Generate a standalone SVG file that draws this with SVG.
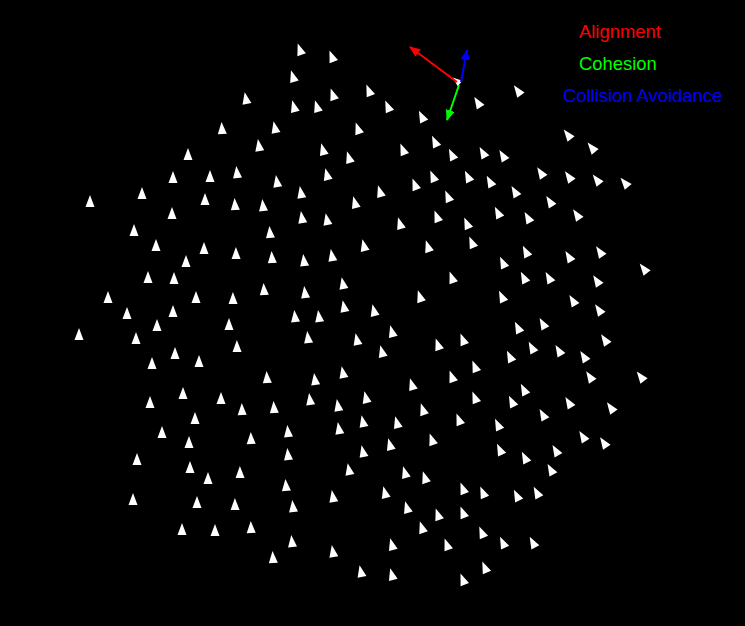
<svg xmlns="http://www.w3.org/2000/svg" xmlns:xlink="http://www.w3.org/1999/xlink" width="745" height="626" viewBox="0 0 745 626">
<style>
.lbl{font-family:"Liberation Sans",Arial,sans-serif;font-size:18.4px}
.boid{fill:#ffffff}
</style>
<defs>
<path id="b" class="boid" d="M0,-7 L4.5,5 L-4.5,5 Z"/>
<marker id="mr" markerUnits="userSpaceOnUse" markerWidth="11" markerHeight="9" refX="10" refY="4.5" orient="auto"><path d="M0,0 L11,4.5 L0,9 Z" fill="#ff0000"/></marker>
<marker id="mg" markerUnits="userSpaceOnUse" markerWidth="11" markerHeight="9" refX="10" refY="4.5" orient="auto"><path d="M0,0 L11,4.5 L0,9 Z" fill="#00ff00"/></marker>
<marker id="mb" markerUnits="userSpaceOnUse" markerWidth="11" markerHeight="9" refX="10" refY="4.5" orient="auto"><path d="M0,0 L11,4.5 L0,9 Z" fill="#0000ff"/></marker>
</defs>
<rect width="745" height="626" fill="#000000"/>
<g id="boids">
<use href="#b" transform="translate(300 50) rotate(-19)"/>
<use href="#b" transform="translate(332 57) rotate(-21)"/>
<use href="#b" transform="translate(293 77) rotate(-17)"/>
<use href="#b" transform="translate(369 91) rotate(-22)"/>
<use href="#b" transform="translate(246 99) rotate(-11)"/>
<use href="#b" transform="translate(333 95) rotate(-19)"/>
<use href="#b" transform="translate(294 107) rotate(-15)"/>
<use href="#b" transform="translate(317 107) rotate(-17)"/>
<use href="#b" transform="translate(222 129) rotate(-4)"/>
<use href="#b" transform="translate(275 128) rotate(-12)"/>
<use href="#b" transform="translate(358 129) rotate(-19)"/>
<use href="#b" transform="translate(259 146) rotate(-9)"/>
<use href="#b" transform="translate(323 150) rotate(-15)"/>
<use href="#b" transform="translate(349 158) rotate(-17)"/>
<use href="#b" transform="translate(237 173) rotate(-6)"/>
<use href="#b" transform="translate(277 182) rotate(-9)"/>
<use href="#b" transform="translate(327 175) rotate(-14)"/>
<use href="#b" transform="translate(301 193) rotate(-10)"/>
<use href="#b" transform="translate(235 205) rotate(-4)"/>
<use href="#b" transform="translate(263 206) rotate(-6)"/>
<use href="#b" transform="translate(355 203) rotate(-15)"/>
<use href="#b" transform="translate(302 218) rotate(-9)"/>
<use href="#b" transform="translate(327 220) rotate(-11)"/>
<use href="#b" transform="translate(188 155)"/>
<use href="#b" transform="translate(173 178)"/>
<use href="#b" transform="translate(210 177)"/>
<use href="#b" transform="translate(142 194)"/>
<use href="#b" transform="translate(90 202)"/>
<use href="#b" transform="translate(205 200)"/>
<use href="#b" transform="translate(172 214)"/>
<use href="#b" transform="translate(134 231)"/>
<use href="#b" transform="translate(388 107) rotate(-23)"/>
<use href="#b" transform="translate(422 117) rotate(-26)"/>
<use href="#b" transform="translate(478 103) rotate(-32)"/>
<use href="#b" transform="translate(518 91) rotate(-36)"/>
<use href="#b" transform="translate(435 142) rotate(-25)"/>
<use href="#b" transform="translate(403 150) rotate(-22)"/>
<use href="#b" transform="translate(452 155) rotate(-26)"/>
<use href="#b" transform="translate(483 153) rotate(-29)"/>
<use href="#b" transform="translate(503 156) rotate(-31)"/>
<use href="#b" transform="translate(433 177) rotate(-23)"/>
<use href="#b" transform="translate(468 177) rotate(-26)"/>
<use href="#b" transform="translate(490 182) rotate(-28)"/>
<use href="#b" transform="translate(415 185) rotate(-21)"/>
<use href="#b" transform="translate(380 192) rotate(-17)"/>
<use href="#b" transform="translate(448 197) rotate(-23)"/>
<use href="#b" transform="translate(515 192) rotate(-30)"/>
<use href="#b" transform="translate(498 213) rotate(-27)"/>
<use href="#b" transform="translate(437 217) rotate(-21)"/>
<use href="#b" transform="translate(400 224) rotate(-17)"/>
<use href="#b" transform="translate(467 224) rotate(-23)"/>
<use href="#b" transform="translate(568 135) rotate(-38)"/>
<use href="#b" transform="translate(592 148) rotate(-39)"/>
<use href="#b" transform="translate(541 173) rotate(-33)"/>
<use href="#b" transform="translate(569 177) rotate(-35)"/>
<use href="#b" transform="translate(597 180) rotate(-38)"/>
<use href="#b" transform="translate(625 183) rotate(-40)"/>
<use href="#b" transform="translate(550 202) rotate(-32)"/>
<use href="#b" transform="translate(577 215) rotate(-34)"/>
<use href="#b" transform="translate(528 218) rotate(-29)"/>
<use href="#b" transform="translate(156 246)"/>
<use href="#b" transform="translate(204 249)"/>
<use href="#b" transform="translate(186 262)"/>
<use href="#b" transform="translate(148 278)"/>
<use href="#b" transform="translate(174 279)"/>
<use href="#b" transform="translate(196 298)"/>
<use href="#b" transform="translate(108 298)"/>
<use href="#b" transform="translate(127 314)"/>
<use href="#b" transform="translate(173 312)"/>
<use href="#b" transform="translate(157 326)"/>
<use href="#b" transform="translate(79 335)"/>
<use href="#b" transform="translate(136 339)"/>
<use href="#b" transform="translate(175 354)"/>
<use href="#b" transform="translate(152 364)"/>
<use href="#b" transform="translate(199 362)"/>
<use href="#b" transform="translate(183 394)"/>
<use href="#b" transform="translate(150 403)"/>
<use href="#b" transform="translate(270 233) rotate(-5)"/>
<use href="#b" transform="translate(236 254) rotate(-1)"/>
<use href="#b" transform="translate(272 258) rotate(-4)"/>
<use href="#b" transform="translate(304 261) rotate(-7)"/>
<use href="#b" transform="translate(332 256) rotate(-10)"/>
<use href="#b" transform="translate(364 246) rotate(-13)"/>
<use href="#b" transform="translate(264 290) rotate(-4)"/>
<use href="#b" transform="translate(305 293) rotate(-7)"/>
<use href="#b" transform="translate(343 284) rotate(-11)"/>
<use href="#b" transform="translate(233 299) rotate(-1)"/>
<use href="#b" transform="translate(344 307) rotate(-11)"/>
<use href="#b" transform="translate(295 317) rotate(-6)"/>
<use href="#b" transform="translate(319 317) rotate(-8)"/>
<use href="#b" transform="translate(229 325)"/>
<use href="#b" transform="translate(308 338) rotate(-7)"/>
<use href="#b" transform="translate(357 340) rotate(-12)"/>
<use href="#b" transform="translate(237 347) rotate(-1)"/>
<use href="#b" transform="translate(267 378) rotate(-4)"/>
<use href="#b" transform="translate(315 380) rotate(-8)"/>
<use href="#b" transform="translate(343 373) rotate(-11)"/>
<use href="#b" transform="translate(221 399)"/>
<use href="#b" transform="translate(274 408) rotate(-4)"/>
<use href="#b" transform="translate(310 400) rotate(-8)"/>
<use href="#b" transform="translate(338 406) rotate(-10)"/>
<use href="#b" transform="translate(366 398) rotate(-13)"/>
<use href="#b" transform="translate(242 410) rotate(-2)"/>
<use href="#b" transform="translate(428 247) rotate(-18)"/>
<use href="#b" transform="translate(472 243) rotate(-23)"/>
<use href="#b" transform="translate(503 263) rotate(-25)"/>
<use href="#b" transform="translate(452 278) rotate(-20)"/>
<use href="#b" transform="translate(502 297) rotate(-25)"/>
<use href="#b" transform="translate(420 297) rotate(-18)"/>
<use href="#b" transform="translate(374 311) rotate(-13)"/>
<use href="#b" transform="translate(392 332) rotate(-15)"/>
<use href="#b" transform="translate(518 328) rotate(-26)"/>
<use href="#b" transform="translate(463 340) rotate(-21)"/>
<use href="#b" transform="translate(438 345) rotate(-19)"/>
<use href="#b" transform="translate(382 352) rotate(-14)"/>
<use href="#b" transform="translate(510 357) rotate(-26)"/>
<use href="#b" transform="translate(475 367) rotate(-22)"/>
<use href="#b" transform="translate(452 377) rotate(-20)"/>
<use href="#b" transform="translate(412 385) rotate(-17)"/>
<use href="#b" transform="translate(475 398) rotate(-22)"/>
<use href="#b" transform="translate(512 402) rotate(-26)"/>
<use href="#b" transform="translate(423 410) rotate(-18)"/>
<use href="#b" transform="translate(526 252) rotate(-27)"/>
<use href="#b" transform="translate(569 257) rotate(-31)"/>
<use href="#b" transform="translate(600 252) rotate(-34)"/>
<use href="#b" transform="translate(644 269) rotate(-38)"/>
<use href="#b" transform="translate(524 278) rotate(-27)"/>
<use href="#b" transform="translate(549 278) rotate(-29)"/>
<use href="#b" transform="translate(597 281) rotate(-33)"/>
<use href="#b" transform="translate(573 301) rotate(-31)"/>
<use href="#b" transform="translate(599 310) rotate(-34)"/>
<use href="#b" transform="translate(543 324) rotate(-29)"/>
<use href="#b" transform="translate(605 340) rotate(-34)"/>
<use href="#b" transform="translate(532 348) rotate(-28)"/>
<use href="#b" transform="translate(559 351) rotate(-30)"/>
<use href="#b" transform="translate(584 357) rotate(-32)"/>
<use href="#b" transform="translate(590 377) rotate(-33)"/>
<use href="#b" transform="translate(641 377) rotate(-37)"/>
<use href="#b" transform="translate(524 390) rotate(-27)"/>
<use href="#b" transform="translate(569 403) rotate(-31)"/>
<use href="#b" transform="translate(611 408) rotate(-35)"/>
<use href="#b" transform="translate(195 419)"/>
<use href="#b" transform="translate(162 433)"/>
<use href="#b" transform="translate(189 443)"/>
<use href="#b" transform="translate(137 460)"/>
<use href="#b" transform="translate(190 468)"/>
<use href="#b" transform="translate(208 479)"/>
<use href="#b" transform="translate(133 500)"/>
<use href="#b" transform="translate(197 503)"/>
<use href="#b" transform="translate(182 530)"/>
<use href="#b" transform="translate(215 531)"/>
<use href="#b" transform="translate(363 422) rotate(-12)"/>
<use href="#b" transform="translate(251 439) rotate(-2)"/>
<use href="#b" transform="translate(288 432) rotate(-6)"/>
<use href="#b" transform="translate(339 429) rotate(-10)"/>
<use href="#b" transform="translate(288 455) rotate(-6)"/>
<use href="#b" transform="translate(363 452) rotate(-12)"/>
<use href="#b" transform="translate(349 470) rotate(-11)"/>
<use href="#b" transform="translate(240 473) rotate(-1)"/>
<use href="#b" transform="translate(286 486) rotate(-5)"/>
<use href="#b" transform="translate(333 497) rotate(-10)"/>
<use href="#b" transform="translate(293 507) rotate(-6)"/>
<use href="#b" transform="translate(235 505) rotate(-1)"/>
<use href="#b" transform="translate(251 528) rotate(-2)"/>
<use href="#b" transform="translate(292 542) rotate(-6)"/>
<use href="#b" transform="translate(333 552) rotate(-10)"/>
<use href="#b" transform="translate(273 558) rotate(-4)"/>
<use href="#b" transform="translate(361 572) rotate(-12)"/>
<use href="#b" transform="translate(397 423) rotate(-15)"/>
<use href="#b" transform="translate(459 420) rotate(-21)"/>
<use href="#b" transform="translate(498 425) rotate(-25)"/>
<use href="#b" transform="translate(390 445) rotate(-15)"/>
<use href="#b" transform="translate(432 440) rotate(-19)"/>
<use href="#b" transform="translate(500 450) rotate(-25)"/>
<use href="#b" transform="translate(405 473) rotate(-16)"/>
<use href="#b" transform="translate(425 478) rotate(-18)"/>
<use href="#b" transform="translate(463 489) rotate(-21)"/>
<use href="#b" transform="translate(483 493) rotate(-23)"/>
<use href="#b" transform="translate(517 496) rotate(-26)"/>
<use href="#b" transform="translate(385 493) rotate(-14)"/>
<use href="#b" transform="translate(407 508) rotate(-16)"/>
<use href="#b" transform="translate(438 515) rotate(-19)"/>
<use href="#b" transform="translate(463 513) rotate(-21)"/>
<use href="#b" transform="translate(422 528) rotate(-18)"/>
<use href="#b" transform="translate(482 533) rotate(-23)"/>
<use href="#b" transform="translate(503 543) rotate(-25)"/>
<use href="#b" transform="translate(392 545) rotate(-15)"/>
<use href="#b" transform="translate(447 545) rotate(-20)"/>
<use href="#b" transform="translate(485 568) rotate(-23)"/>
<use href="#b" transform="translate(392 575) rotate(-15)"/>
<use href="#b" transform="translate(463 580) rotate(-21)"/>
<use href="#b" transform="translate(543 415) rotate(-29)"/>
<use href="#b" transform="translate(583 437) rotate(-32)"/>
<use href="#b" transform="translate(604 443) rotate(-34)"/>
<use href="#b" transform="translate(556 451) rotate(-30)"/>
<use href="#b" transform="translate(525 458) rotate(-27)"/>
<use href="#b" transform="translate(551 470) rotate(-29)"/>
<use href="#b" transform="translate(537 493) rotate(-28)"/>
<use href="#b" transform="translate(533 543) rotate(-28)"/>
</g>
<g id="selected">
<use href="#b" transform="translate(457 81) rotate(-50) scale(0.8)"/>
</g>
<g id="connectors" fill="none" stroke-width="2">
<line x1="457" y1="82" x2="410" y2="47" stroke="#ff0000" marker-end="url(#mr)"/>
<line x1="461" y1="82" x2="467" y2="50" stroke="#0000ff" marker-end="url(#mb)"/>
<line x1="459" y1="85" x2="447" y2="120" stroke="#00ff00" marker-end="url(#mg)"/>
</g>
<g id="legend" class="lbl">
<text x="579" y="38" fill="#ff0000">Alignment</text>
<text x="579" y="70" fill="#00ff00">Cohesion</text>
<text x="563" y="102" fill="#0000ff">Collision Avoidance</text>
</g>
</svg>
